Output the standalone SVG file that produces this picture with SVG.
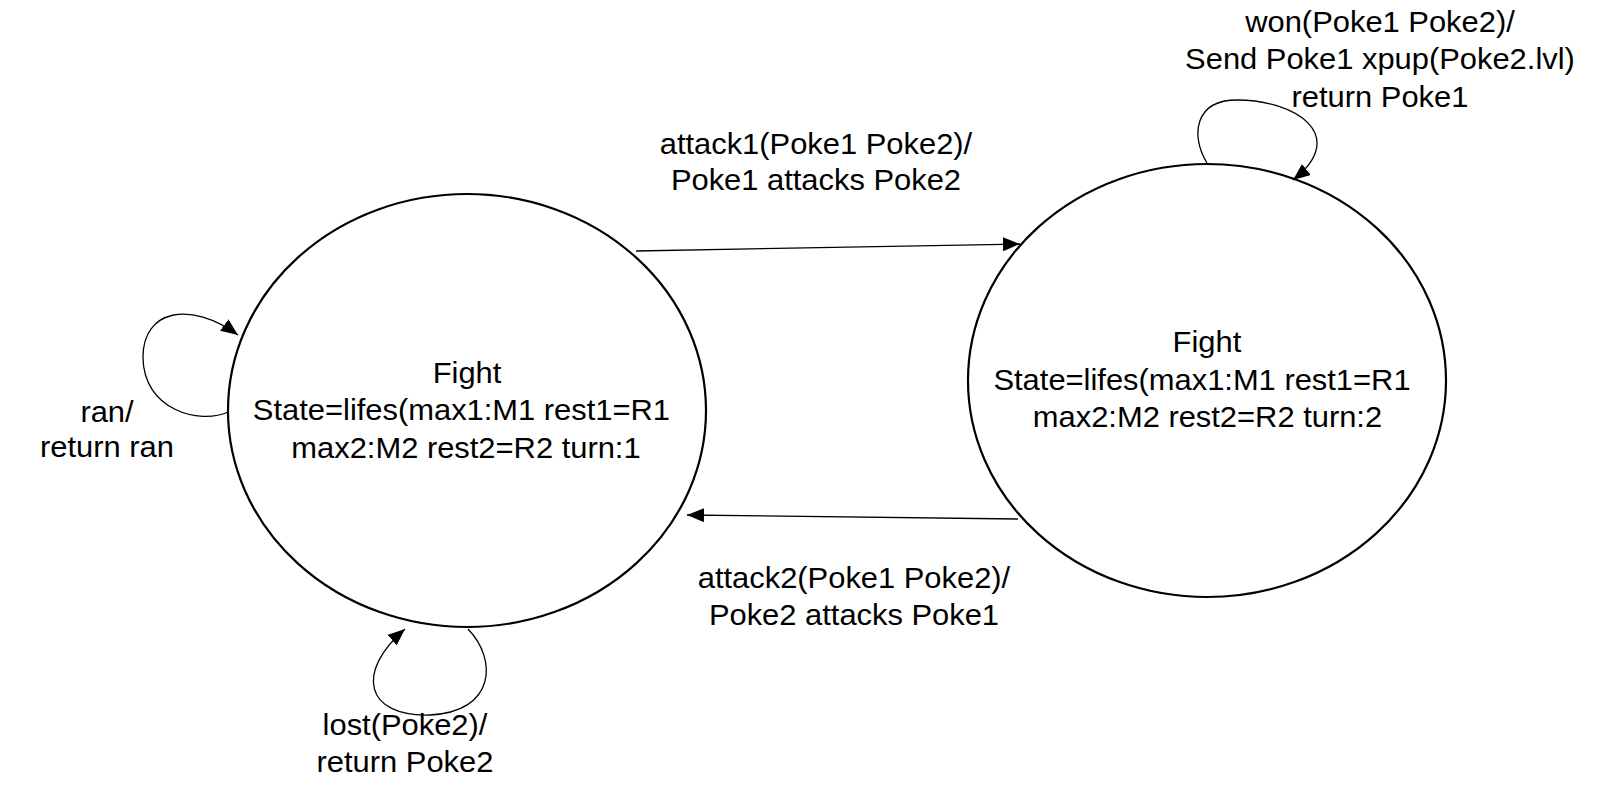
<svg xmlns="http://www.w3.org/2000/svg" width="1601" height="801" viewBox="0 0 1601 801">
<style>
.state{fill:#fff;stroke:#000;stroke-width:2.2}
.edge{fill:none;stroke:#000;stroke-width:1.3}
text{font-family:"Liberation Sans",Arial,Helvetica,sans-serif;font-size:30px;fill:#000;text-anchor:middle}
</style>
<defs>
<marker id="arr" markerUnits="userSpaceOnUse" markerWidth="18" markerHeight="14" refX="17" refY="7" orient="auto">
<path d="M0,0 L17,7 L0,14 z" fill="#000"/>
</marker>
</defs>
<rect width="1601" height="801" fill="#fff"/>
<g id="state1">
<ellipse class="state" cx="467" cy="410.5" rx="239" ry="216.5"/>
<g transform="scale(1.03 1)">
<text x="453.4" y="383">Fight</text>
<text x="448" y="420.5">State=lifes(max1:M1 rest1=R1</text>
<text x="452.4" y="458">max2:M2 rest2=R2 turn:1</text>
</g>
</g>
<g id="state2">
<ellipse class="state" cx="1207" cy="380.5" rx="239" ry="216.5"/>
<g transform="scale(1.03 1)">
<text x="1171.8" y="352">Fight</text>
<text x="1167" y="390">State=lifes(max1:M1 rest1=R1</text>
<text x="1172.3" y="427">max2:M2 rest2=R2 turn:2</text>
</g>
</g>
<g id="connectors">
<path class="edge" d="M636,251 L1020,244" marker-end="url(#arr)"/>
<path class="edge" d="M1018,519 L687,515" marker-end="url(#arr)"/>
<path class="edge" d="M1207,163 C1190,135 1195,100 1237,100 C1295,100 1350,135 1293,180" marker-end="url(#arr)"/>
<path class="edge" d="M228,412 C200,425 143,410 143,357 C143,310 190,300 238,335" marker-end="url(#arr)"/>
<path class="edge" d="M468,629 C498,660 495,712 430,715 C365,717 355,672 405,629" marker-end="url(#arr)"/>
</g>
<g id="labels" transform="scale(1.03 1)">
<text x="1339.8" y="32">won(Poke1 Poke2)/</text>
<text x="1339.8" y="69.5">Send Poke1 xpup(Poke2.lvl)</text>
<text x="1339.8" y="107">return Poke1</text>
<text x="792.2" y="154">attack1(Poke1 Poke2)/</text>
<text x="792.2" y="190">Poke1 attacks Poke2</text>
<text x="829.1" y="588">attack2(Poke1 Poke2)/</text>
<text x="829.1" y="625">Poke2 attacks Poke1</text>
<text x="393.2" y="735">lost(Poke2)/</text>
<text x="393.2" y="772">return Poke2</text>
<text x="103.9" y="422">ran/</text>
<text x="103.9" y="457">return ran</text>
</g>
</svg>
